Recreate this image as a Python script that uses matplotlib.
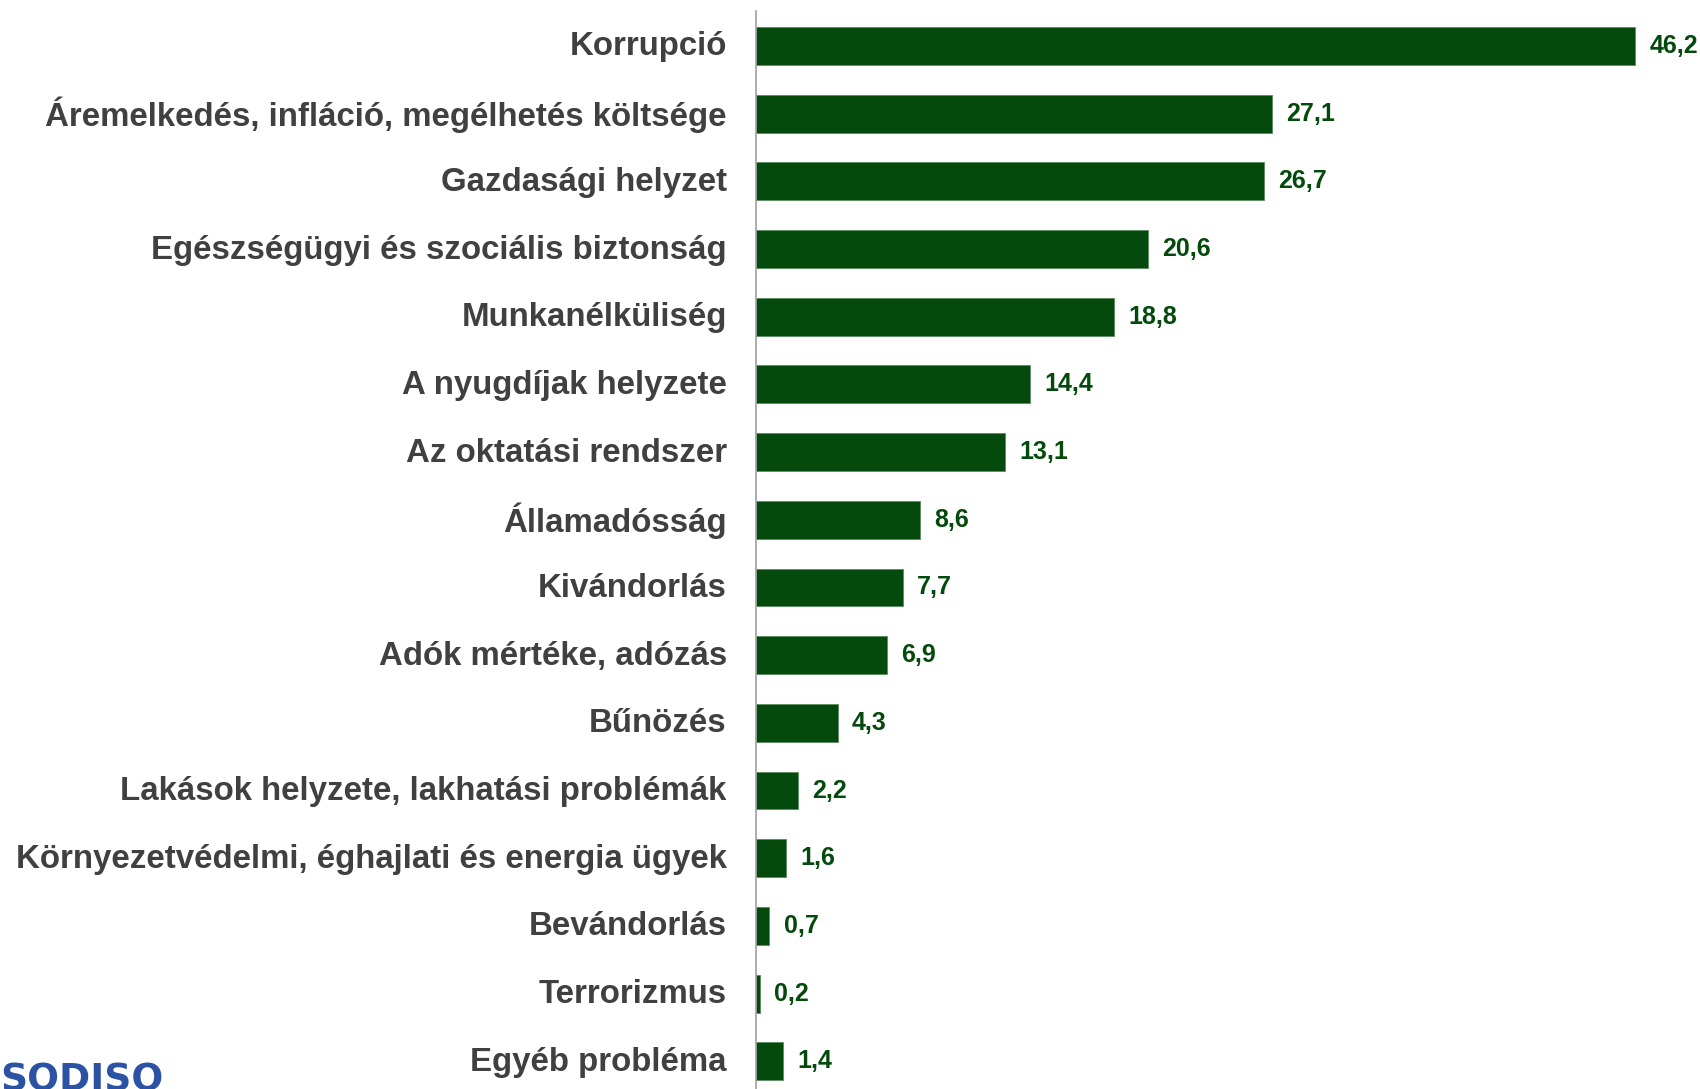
import matplotlib
matplotlib.use("Agg")
import matplotlib.pyplot as plt
import matplotlib.transforms as mtransforms

categories = [
    "Korrupció",
    "Áremelkedés, infláció, megélhetés költsége",
    "Gazdasági helyzet",
    "Egészségügyi és szociális biztonság",
    "Munkanélküliség",
    "A nyugdíjak helyzete",
    "Az oktatási rendszer",
    "Államadósság",
    "Kivándorlás",
    "Adók mértéke, adózás",
    "Bűnözés",
    "Lakások helyzete, lakhatási problémák",
    "Környezetvédelmi, éghajlati és energia ügyek",
    "Bevándorlás",
    "Terrorizmus",
    "Egyéb probléma",
]
values = [46.2, 27.1, 26.7, 20.6, 18.8, 14.4, 13.1, 8.6, 7.7, 6.9, 4.3, 2.2, 1.6, 0.7, 0.2, 1.4]

bar_color = "#034A0C"
label_color = "#404040"

plt.rcParams["font.family"] = ["Liberation Sans", "DejaVu Sans"]

fig = plt.figure(figsize=(17, 10.89), dpi=100)
ax = fig.add_axes([756 / 1700, 0, 944 / 1700, 1078 / 1089])

pos = list(range(len(categories)))
ax.barh(pos, values, height=0.56, color=bar_color, edgecolor="#5A8A5F", linewidth=0.6)

for y, v in zip(pos, values):
    ax.text(v + 0.75, y, f"{v:.1f}".replace(".", ","), va="center", ha="left",
            fontsize=18, fontweight="bold", color=bar_color)

ax.set_xlim(0, 49.6)
ax.set_ylim(15.41, -0.517)
ax.set_yticks(pos)
ax.set_yticklabels(categories, fontsize=23.8, fontweight="bold", color=label_color)
ax.tick_params(axis="y", length=0, pad=21)
ax.set_xticks([])

# nudge the category labels up a little
shift = mtransforms.ScaledTranslation(0, 2.5 / 100, fig.dpi_scale_trans)
for lbl in ax.get_yticklabels():
    lbl.set_transform(lbl.get_transform() + shift)

for s in ["top", "right", "bottom"]:
    ax.spines[s].set_visible(False)
ax.spines["left"].set_color("#A0A0A0")
ax.spines["left"].set_linewidth(1.2)

# logo, cut off at the bottom edge
fig.text(0.0, 26 / 1089, "SODISQ", ha="left", va="top", fontsize=27,
         fontweight="bold", color="#2B52A3", family=["DejaVu Sans"])

fig.savefig("out.png", dpi=100)
